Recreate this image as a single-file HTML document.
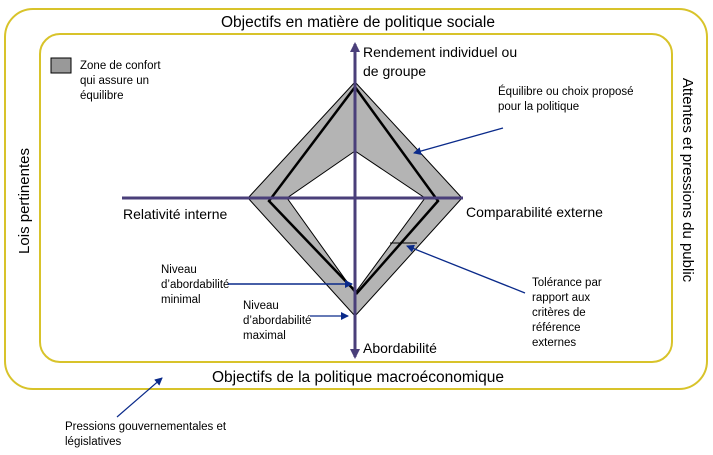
<!DOCTYPE html>
<html><head><meta charset="utf-8"><style>
body{margin:0;width:713px;height:455px;background:#fff;overflow:hidden}
svg{display:block}
text{font-family:"Liberation Sans",sans-serif;fill:#000}
</style></head><body>
<svg width="713" height="455" viewBox="0 0 713 455">
<defs>
<marker id="b" markerWidth="8" markerHeight="8" refX="7" refY="4" orient="auto" markerUnits="userSpaceOnUse"><path d="M0,0 L8,4 L0,8 z" fill="#0a2a8a"/></marker>
<marker id="p" markerWidth="10" markerHeight="10" refX="8" refY="5" orient="auto" markerUnits="userSpaceOnUse"><path d="M0,0 L10,5 L0,10 z" fill="#4a3f7a"/></marker>
</defs>
<rect x="5" y="9" width="702" height="380" rx="28" fill="none" stroke="#d8c32a" stroke-width="2"/>
<rect x="40" y="34" width="632" height="328" rx="20" fill="none" stroke="#d8c32a" stroke-width="2"/>
<text x="358" y="27" font-size="15.5" text-anchor="middle">Objectifs en matière de politique sociale</text>
<text x="358" y="382" font-size="15.5" text-anchor="middle">Objectifs de la politique macroéconomique</text>
<text transform="translate(29,201) rotate(-90)" font-size="15" text-anchor="middle">Lois pertinentes</text>
<text transform="translate(683,180) rotate(90)" font-size="15" text-anchor="middle">Attentes et pressions du public</text>
<rect x="51" y="58" width="20" height="15" fill="#999" stroke="#000"/>
<text font-size="11.5"><tspan x="80" y="69">Zone de confort</tspan><tspan x="80" y="84">qui assure un</tspan><tspan x="80" y="99">équilibre</tspan></text>
<path d="M355,82 L462,198 L355,316 L248,198 Z M355,151 L287,198 L355,293 L425,198 Z" fill="#b4b4b4" fill-rule="evenodd" stroke="#000" stroke-width="1"/>
<path d="M355,87 L438,201 L357,293 L269,201 Z" fill="none" stroke="#000" stroke-width="2.5"/>
<line x1="355" y1="355" x2="355" y2="44" stroke="#4a3f7a" stroke-width="3" marker-end="url(#p)"/>
<line x1="355" y1="44" x2="355" y2="357" stroke="#4a3f7a" stroke-width="3" marker-end="url(#p)"/>
<line x1="122" y1="198" x2="463" y2="198" stroke="#4a3f7a" stroke-width="3"/>
<text font-size="14"><tspan x="363" y="57">Rendement individuel ou</tspan><tspan x="363" y="76">de groupe</tspan></text>
<text x="123" y="219" font-size="14">Relativité interne</text>
<text x="466" y="217" font-size="14">Comparabilité externe</text>
<text x="363" y="353" font-size="14">Abordabilité</text>
<text font-size="11.5"><tspan x="498" y="95">Équilibre ou choix proposé</tspan><tspan x="498" y="110">pour la politique</tspan></text>
<line x1="503" y1="128" x2="414" y2="153" stroke="#0a2a8a" stroke-width="1.3" marker-end="url(#b)"/>
<text font-size="11.5"><tspan x="161" y="273">Niveau</tspan><tspan x="161" y="288">d’abordabilité</tspan><tspan x="161" y="303">minimal</tspan></text>
<line x1="228" y1="284" x2="352" y2="284" stroke="#0a2a8a" stroke-width="1.5" marker-end="url(#b)"/>
<text font-size="11.5"><tspan x="243" y="309">Niveau</tspan><tspan x="243" y="324">d’abordabilité</tspan><tspan x="243" y="339">maximal</tspan></text>
<line x1="310" y1="316" x2="348" y2="316" stroke="#0a2a8a" stroke-width="1.3" marker-end="url(#b)"/>
<path d="M390,243 L417,243" stroke="#000" stroke-width="1" fill="none"/>
<line x1="525" y1="293" x2="407" y2="246" stroke="#0a2a8a" stroke-width="1.3" marker-end="url(#b)"/>
<text font-size="11.5"><tspan x="532" y="286">Tolérance par</tspan><tspan x="532" y="301">rapport aux</tspan><tspan x="532" y="316">critères de</tspan><tspan x="532" y="331">référence</tspan><tspan x="532" y="346">externes</tspan></text>
<line x1="117" y1="417" x2="162" y2="378" stroke="#0a2a8a" stroke-width="1.2" marker-end="url(#b)"/>
<text font-size="11.5"><tspan x="65" y="430">Pressions gouvernementales et</tspan><tspan x="65" y="445">législatives</tspan></text>
</svg>
</body></html>
